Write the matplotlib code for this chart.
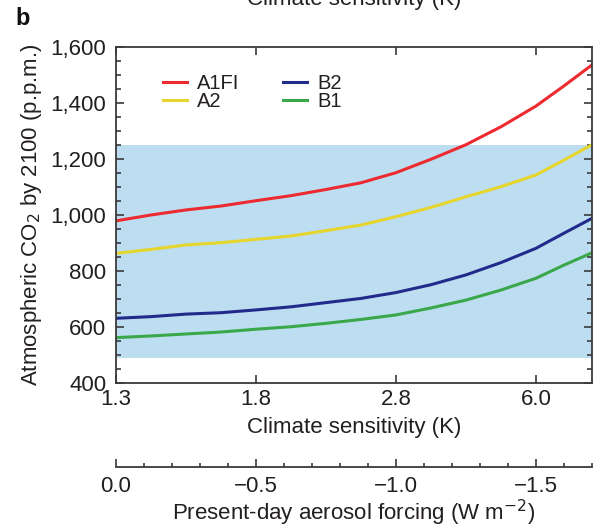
import numpy as np
import matplotlib
matplotlib.use('Agg')
import matplotlib.pyplot as plt
from matplotlib.ticker import MultipleLocator, FixedLocator, FuncFormatter

plt.rcParams['font.family'] = ['Liberation Sans', 'DejaVu Sans']

# present-day aerosol forcing (W m-2) along the x axis
forcing = [0.0, -0.125, -0.25, -0.375, -0.5, -0.625, -0.75, -0.875, -1.0,
           -1.125, -1.25, -1.375, -1.5, -1.6, -1.7]

# CO2 by 2100 (ppm) for each SRES scenario
co2_a1fi = [978, 999, 1017, 1031, 1050, 1068, 1090, 1114, 1150, 1198, 1250, 1314, 1388, 1460, 1535]
co2_a2 = [862, 876, 892, 900, 912, 924, 943, 963, 993, 1026, 1064, 1100, 1142, 1195, 1250]
co2_b2 = [630, 636, 645, 650, 660, 671, 686, 701, 722, 750, 785, 829, 880, 934, 987]
co2_b1 = [561, 567, 574, 581, 591, 600, 612, 626, 642, 667, 695, 731, 773, 820, 864]

# climate sensitivity ticks matched to forcing positions
sens_ticks = [0.0, -0.5, -1.0, -1.5]
sens_labels = ['1.3', '1.8', '2.8', '6.0']
forcing_labels = ['0.0', '\u22120.5', '\u22121.0', '\u22121.5']

# range of observed/allowed CO2
band_lo, band_hi = 490, 1250

txt = '#231f20'
ax_col = '#3a3a3a'
fs = 16

fig = plt.figure(figsize=(5.94, 5.27), dpi=100)
ax = fig.add_axes([0.1953, 0.2738, 0.8013, 0.6376])

ax.axhspan(band_lo, band_hi, color='#bcdef0', lw=0, zorder=0)
ax.plot(forcing, co2_a1fi, color='#ec2a30', lw=2.2, label='A1FI')
ax.plot(forcing, co2_a2, color='#e6d52c', lw=2.2, label='A2')
ax.plot(forcing, co2_b2, color='#222b8c', lw=2.2, label='B2')
ax.plot(forcing, co2_b1, color='#3aa74a', lw=2.2, label='B1')

ax.set_xlim(0, -1.7)
ax.set_ylim(400, 1600)
ax.xaxis.set_major_locator(FixedLocator(sens_ticks))
ax.set_xticklabels(sens_labels)
ax.yaxis.set_major_locator(MultipleLocator(200))
ax.yaxis.set_minor_locator(MultipleLocator(50))
ax.yaxis.set_major_formatter(FuncFormatter(lambda v, p: f'{int(v):,}'))
ax.tick_params(which='both', direction='in', top=True, right=True,
               colors=ax_col, labelcolor=txt, labelsize=fs, width=1.2)
ax.tick_params(which='major', length=6)
ax.tick_params(which='minor', length=3.5)
ax.tick_params(axis='y', pad=7)
ax.tick_params(axis='x', pad=4.6)
for s in ax.spines.values():
    s.set_color(ax_col)
    s.set_linewidth(1.3)

ax.set_xlabel('Climate sensitivity (K)', fontsize=fs, color=txt, labelpad=5)
ax.set_ylabel('Atmospheric CO$_2$ by 2100 (p.p.m.)', fontsize=fs, color=txt, labelpad=5)

ax.legend(ncol=2, loc='upper left', bbox_to_anchor=(0.0987, 0.919), frameon=False,
          borderpad=0, borderaxespad=0, fontsize=14.5, handlelength=1.2,
          handletextpad=0.5, columnspacing=2.15, labelspacing=-0.05, labelcolor=txt)

# second scale: aerosol forcing
ax2 = fig.add_axes([0.1953, 1 - 467.3 / 527, 0.8013, 0.0001])
ax2.set_xlim(0, -1.7)
ax2.set_yticks([])
for k in ('top', 'left', 'right'):
    ax2.spines[k].set_visible(False)
ax2.spines['bottom'].set_color(ax_col)
ax2.spines['bottom'].set_linewidth(1.3)
ax2.patch.set_visible(False)
ax2.xaxis.set_major_locator(FixedLocator(sens_ticks))
ax2.set_xticklabels(forcing_labels)
ax2.xaxis.set_minor_locator(MultipleLocator(0.1))
ax2.tick_params(which='both', direction='in', colors=ax_col, labelcolor=txt,
                labelsize=fs, width=1.2, pad=6.5)
ax2.tick_params(which='major', length=6)
ax2.tick_params(which='minor', length=3)
ax2.set_xlabel('Present-day aerosol forcing (W m$^{-2}$)', fontsize=fs, color=txt, labelpad=0)

fig.text(15 / 594, 1 - 7 / 527, 'b', fontsize=17, fontweight='heavy', color='#111111',
         va='top', ha='left')
# axis title of the panel above, clipped by the top edge
fig.text(354 / 594, 1.0 - 5 / 527, 'Climate sensitivity (K)', fontsize=fs, color=txt,
         ha='center', va='baseline')

fig.savefig('out.png', dpi=100)
